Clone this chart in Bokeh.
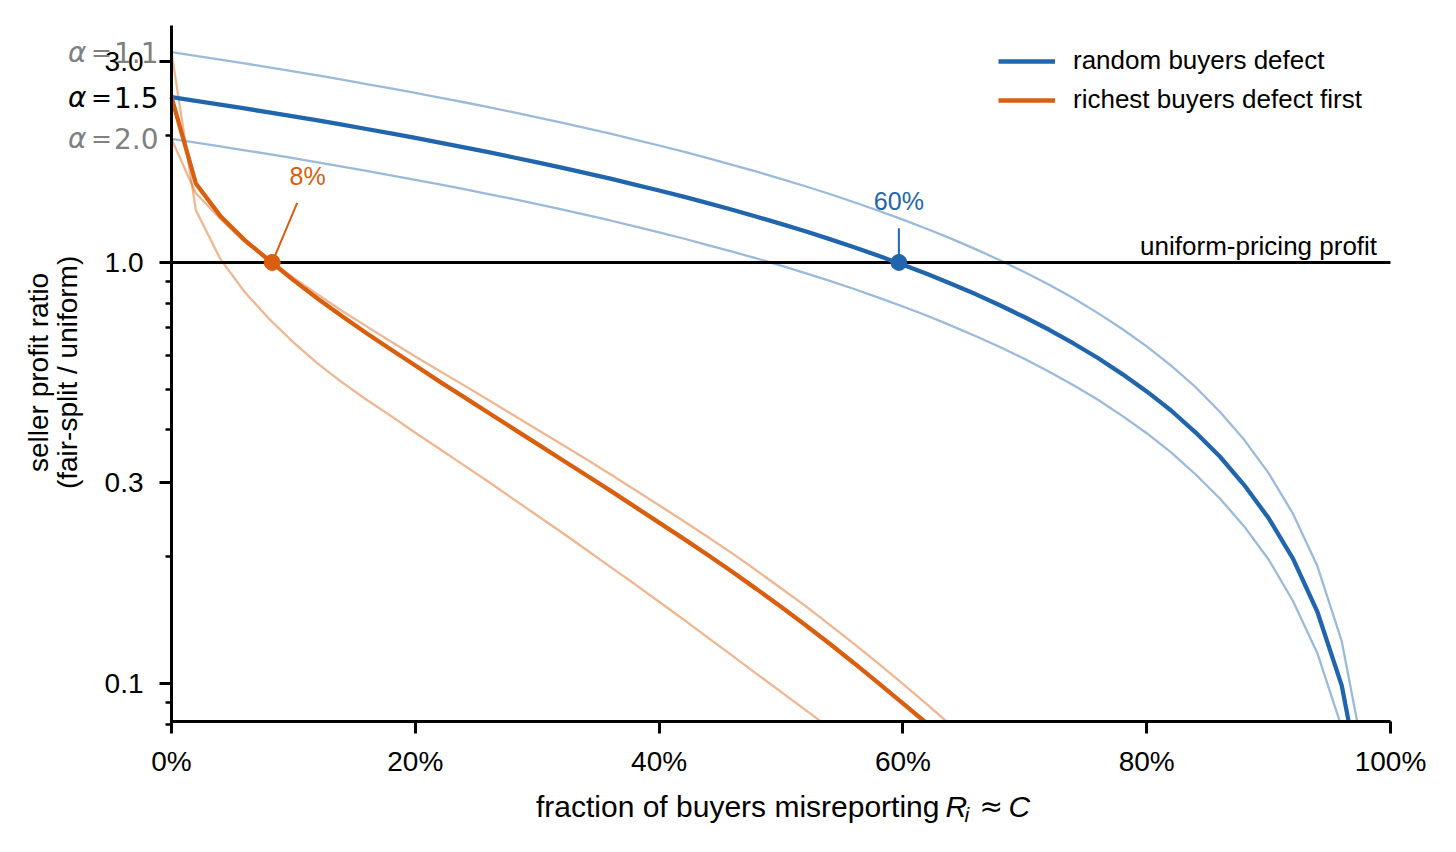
from bokeh.plotting import figure
from bokeh.models import (Range1d, FixedTicker, PrintfTickFormatter, NumeralTickFormatter,
                          Label, Legend, LegendItem)
from bokeh.embed import file_html
from bokeh.resources import INLINE
import math

# ---------------- data ----------------
frac_random = [0.00, 0.02, 0.04, 0.06, 0.08, 0.10, 0.12, 0.14, 0.16, 0.18,
               0.20, 0.22, 0.24, 0.26, 0.28, 0.30, 0.32, 0.34, 0.36, 0.38,
               0.40, 0.42, 0.44, 0.46, 0.48, 0.50, 0.52, 0.54, 0.56, 0.58,
               0.60, 0.62, 0.64, 0.66, 0.68, 0.70, 0.72, 0.74, 0.76, 0.78,
               0.80, 0.82, 0.84, 0.86, 0.88, 0.90, 0.92, 0.94, 0.96, 0.98]
random_a11 = [3.160, 3.097, 3.034, 2.970, 2.907, 2.844, 2.781, 2.718, 2.654, 2.591,
              2.528, 2.465, 2.402, 2.338, 2.275, 2.212, 2.149, 2.086, 2.022, 1.959,
              1.896, 1.833, 1.770, 1.706, 1.643, 1.580, 1.517, 1.454, 1.390, 1.327,
              1.264, 1.201, 1.138, 1.074, 1.011, 0.948, 0.885, 0.822, 0.758, 0.695,
              0.632, 0.569, 0.506, 0.442, 0.379, 0.316, 0.253, 0.190, 0.126, 0.063]
random_a15 = [2.470, 2.421, 2.371, 2.322, 2.272, 2.223, 2.174, 2.124, 2.075, 2.025,
              1.976, 1.927, 1.877, 1.828, 1.778, 1.729, 1.680, 1.630, 1.581, 1.531,
              1.482, 1.433, 1.383, 1.334, 1.284, 1.235, 1.186, 1.136, 1.087, 1.037,
              0.988, 0.939, 0.889, 0.840, 0.790, 0.741, 0.692, 0.642, 0.593, 0.543,
              0.494, 0.445, 0.395, 0.346, 0.296, 0.247, 0.198, 0.148, 0.0988, 0.0494]
random_a20 = [1.965, 1.926, 1.886, 1.847, 1.808, 1.769, 1.729, 1.690, 1.651, 1.611,
              1.572, 1.533, 1.493, 1.454, 1.415, 1.376, 1.336, 1.297, 1.258, 1.218,
              1.179, 1.140, 1.100, 1.061, 1.022, 0.983, 0.943, 0.904, 0.865, 0.825,
              0.786, 0.747, 0.707, 0.668, 0.629, 0.590, 0.550, 0.511, 0.472, 0.432,
              0.393, 0.354, 0.314, 0.275, 0.236, 0.197, 0.157, 0.118, 0.0786, 0.0393]

frac_rich = [0.00, 0.02, 0.04, 0.06, 0.08, 0.10, 0.12, 0.14, 0.16, 0.18,
             0.20, 0.22, 0.24, 0.26, 0.28, 0.30, 0.32, 0.34, 0.36, 0.38,
             0.40, 0.42, 0.44, 0.46, 0.48, 0.50, 0.52, 0.54, 0.56, 0.58,
             0.60, 0.62, 0.64, 0.66]
rich_a11 = [3.160, 1.330, 1.020, 0.851, 0.735, 0.646, 0.575, 0.519, 0.472, 0.432,
            0.394, 0.3606, 0.3296, 0.3013, 0.2748, 0.2506, 0.2286, 0.2080, 0.1892, 0.1722,
            0.1563, 0.1419, 0.1285, 0.1164, 0.1054, 0.0955, 0.0865, 0.0783, 0.0708, 0.0641,
            0.0580, 0.0525, 0.0475, 0.0430]
rich_a15 = [2.470, 1.540, 1.290, 1.130, 1.012, 0.908, 0.820, 0.745, 0.679, 0.621,
            0.569, 0.521, 0.4786, 0.4395, 0.4036, 0.3707, 0.3404, 0.3126, 0.2871, 0.2630,
            0.2410, 0.2208, 0.2018, 0.1841, 0.1675, 0.1521, 0.1377, 0.1242, 0.1117, 0.1002,
            0.0897, 0.0802, 0.0713, 0.0632]
rich_a20 = [1.965, 1.460, 1.270, 1.120, 1.014, 0.920, 0.839, 0.767, 0.705, 0.649,
            0.598, 0.552, 0.5105, 0.4710, 0.4345, 0.4009, 0.3698, 0.3412, 0.3141, 0.2884,
            0.2649, 0.2432, 0.2228, 0.2037, 0.1854, 0.1683, 0.1528, 0.1377, 0.1242, 0.1114,
            0.0998, 0.0891, 0.0793, 0.0703]

alpha_names = ["1.1", "1.5", "2.0"]
alpha_start = [3.16, 2.47, 1.965]
alpha_colors = ["#808080", "#000000", "#808080"]

ref_level = 1.0                          # uniform-pricing profit
breakeven_x = [0.0826, 0.5967]           # where ratio crosses 1.0
breakeven_y = [1.0, 1.0]
breakeven_text = ["8%", "60%"]
note_x = [0.1116, 0.5967]                # annotation text positions
note_y = [1.605, 1.40]
connector_x = [0.1031, 0.5967]
connector_y = [1.386, 1.206]

x_bounds = (0.0, 1.0)
y_bounds = (0.0812, 3.655)
x_ticks = [0.0, 0.2, 0.4, 0.6, 0.8, 1.0]
y_ticks = [0.1, 0.3, 1.0, 3.0]
y_minor = [0.08, 0.09, 0.2, 0.4, 0.5, 0.6, 0.7, 0.8, 0.9, 2.0]

BLUE = "#2166ac"
ORANGE = "#d95f0e"
FONT = "Liberation Sans"
MFONT = "DejaVu Sans"

# ---------------- figure (frame covers the canvas; axes are pinned) ----------------
W, H = 1440, 836
AX_LEFT_PX, AX_RIGHT_PX = 171, 1390      # pixel positions of x = 0 and x = 1
AX_TOP_PX, AX_BOT_PX = 25, 721           # pixel positions of y bounds
ppx = (AX_RIGHT_PX - AX_LEFT_PX) / (x_bounds[1] - x_bounds[0])
ldec = (AX_BOT_PX - AX_TOP_PX) / (math.log10(y_bounds[1]) - math.log10(y_bounds[0]))
x_start = x_bounds[0] - AX_LEFT_PX / ppx
x_end = x_bounds[0] + (W - AX_LEFT_PX) / ppx
y_top = 10 ** (math.log10(y_bounds[1]) + AX_TOP_PX / ldec)
y_bot = 10 ** (math.log10(y_bounds[0]) - (H - AX_BOT_PX) / ldec)

p = figure(width=W, height=H, x_range=Range1d(x_start, x_end), y_range=Range1d(y_bot, y_top),
           y_axis_type="log", output_backend="svg", toolbar_location=None, min_border=0,
           title=None)
p.outline_line_color = None
p.grid.visible = False
p.background_fill_color = "white"
p.border_fill_color = "white"

# light variants (alpha 1.1 and 2.0)
for ys in (random_a11, random_a20):
    p.line(frac_random, ys, line_color=BLUE, line_alpha=0.45, line_width=2.3)
for ys in (rich_a11, rich_a20):
    p.line(frac_rich, ys, line_color=ORANGE, line_alpha=0.45, line_width=2.3)

p.line(list(x_bounds), [ref_level, ref_level], line_color="black", line_width=3)

r_blue = p.line(frac_random, random_a15, line_color=BLUE, line_width=4.3)
r_orange = p.line(frac_rich, rich_a15, line_color=ORANGE, line_width=4.3)

# mask everything below the x axis (acts as the axes clip)
p.quad(left=[x_start], right=[x_end], top=[y_bounds[0]], bottom=[y_bot],
       fill_color="white", line_color=None)

# break-even markers & connectors
colors = [ORANGE, BLUE]
p.segment(x0=breakeven_x, y0=breakeven_y, x1=connector_x, y1=connector_y,
          line_color=colors, line_width=2.0)
p.scatter(breakeven_x, breakeven_y, size=16, fill_color=colors, line_color=colors)
for tx, ty, t, c in zip(note_x, note_y, breakeven_text, colors):
    p.add_layout(Label(x=tx, y=ty, text=t, text_align="center", text_baseline="middle",
                       text_color=c, text_font=FONT, text_font_size="25px"))

p.add_layout(Label(x=0.989, y=ref_level, y_offset=16, text="uniform-pricing profit",
                   text_align="right", text_baseline="middle", text_color="black",
                   text_font=FONT, text_font_size="26px"))

# alpha labels at the left of the y axis
for nm, y0, c in zip(alpha_names, alpha_start, alpha_colors):
    p.add_layout(Label(x=0, y=y0, x_offset=-13, text=nm, text_align="right", text_baseline="middle",
                       text_color=c, text_font=MFONT, text_font_size="28px"))
    p.add_layout(Label(x=0, y=y0, x_offset=-70, text="=", text_align="center", text_baseline="middle",
                       text_color=c, text_font=MFONT, text_font_size="25px"))
    p.add_layout(Label(x=0, y=y0, x_offset=-85, text="α", text_align="right", text_baseline="middle",
                       text_color=c, text_font=MFONT, text_font_style="italic",
                       text_font_size="28px"))

# ---------------- axes ----------------
xa, ya = p.xaxis[0], p.yaxis[0]
for ax in (xa, ya):
    ax.axis_line_width = 3
    ax.axis_line_color = "black"
    ax.major_tick_line_width = 3
    ax.minor_tick_line_width = 2.5
    ax.major_tick_out = 12
    ax.major_tick_in = 0
    ax.minor_tick_out = 6
    ax.minor_tick_in = 0
    ax.major_label_text_font = FONT
    ax.major_label_text_font_size = "28px"
    ax.major_label_text_color = "black"

xa.fixed_location = y_bounds[0]
xa.bounds = x_bounds
xa.ticker = FixedTicker(ticks=x_ticks, minor_ticks=[])
xa.formatter = NumeralTickFormatter(format="0%")
xa.major_label_standoff = 12

ya.fixed_location = x_bounds[0]
ya.bounds = (0.0800, y_bounds[1])
ya.ticker = FixedTicker(ticks=y_ticks, minor_ticks=y_minor)
ya.formatter = PrintfTickFormatter(format="%.1f")
ya.major_label_standoff = 16

# y-axis title (two rotated lines)
ymid = 0.548
for txt, sx in (("seller profit ratio", 38), ("(fair-split / uniform)", 67)):
    p.add_layout(Label(x=sx, y=ymid, x_units="screen", text=txt, angle=math.pi / 2,
                       text_align="center", text_baseline="middle", text_font=FONT,
                       text_font_size="28px", text_color="black"))

# x-axis title with italic math part
xl_y = 0.0510
p.add_layout(Label(x=0.6300, y=xl_y, text="fraction of buyers misreporting", text_align="right",
                   text_baseline="middle", text_font=FONT, text_font_size="30px",
                   text_color="black"))
p.add_layout(Label(x=0.6350, y=xl_y, text="R", text_align="left", text_baseline="middle",
                   text_font=FONT, text_font_style="italic", text_font_size="30px",
                   text_color="black"))
p.add_layout(Label(x=0.6505, y=0.0487, text="i", text_align="left", text_baseline="middle",
                   text_font=FONT, text_font_style="italic", text_font_size="21px",
                   text_color="black"))
p.add_layout(Label(x=0.6628, y=xl_y, text="≈", text_align="left", text_baseline="middle",
                   text_font=MFONT, text_font_size="28px", text_color="black"))
p.add_layout(Label(x=0.6866, y=xl_y, text="C", text_align="left", text_baseline="middle",
                   text_font=FONT, text_font_style="italic", text_font_size="30px",
                   text_color="black"))

# ---------------- legend ----------------
legend = Legend(items=[LegendItem(label="random buyers defect", renderers=[r_blue]),
                       LegendItem(label="richest buyers defect first", renderers=[r_orange])],
                location=(988, 711), glyph_width=57, glyph_height=20, label_standoff=18,
                label_text_font=FONT, label_text_font_size="26px", label_text_color="black",
                spacing=8, padding=10, margin=0, border_line_alpha=0, background_fill_alpha=0)
p.add_layout(legend)

open("out.html", "w").write(file_html(p, INLINE))
